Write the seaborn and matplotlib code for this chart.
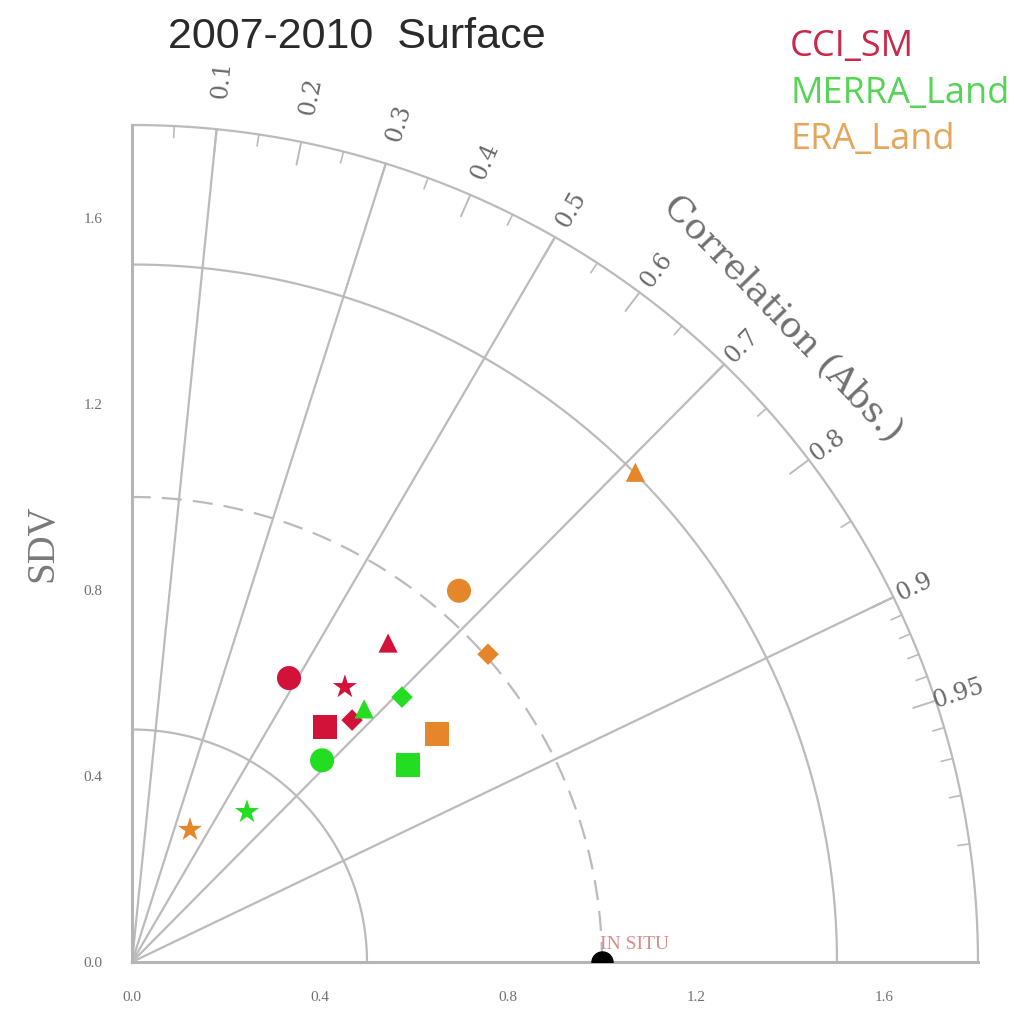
import numpy as np
import pandas as pd
import matplotlib
matplotlib.use("Agg")
import matplotlib.pyplot as plt
import seaborn as sns

# -----------------------
# Data
# -----------------------
products = ['CCI_SM', 'MERRA_Land', 'ERA_Land']
cases = ['circle', 'square', 'triangle', 'diamond', 'star']

sdv_cci = [0.696, 0.651, 0.876, 0.700, 0.745]
corr_cci = [0.480, 0.631, 0.622, 0.669, 0.608]

sdv_merra = [0.593, 0.724, 0.735, 0.809, 0.405]
corr_merra = [0.682, 0.811, 0.672, 0.710, 0.604]

sdv_era = [1.059, 0.813, 1.502, 1.006, 0.310]
corr_era = [0.657, 0.798, 0.713, 0.753, 0.398]

ref_sdv = 1.0
sdv_arcs = [0.5, 1.5]
corr_lines = [0.1, 0.3, 0.5, 0.7, 0.9]
corr_labels = [0.1, 0.2, 0.3, 0.4, 0.5, 0.6, 0.7, 0.8, 0.9, 0.95]
corr_minor = [0.05, 0.15, 0.25, 0.35, 0.45, 0.55, 0.65, 0.75, 0.85,
              0.91, 0.92, 0.93, 0.94, 0.96, 0.97, 0.98, 0.99]
sd_ticks = [0.0, 0.2, 0.4, 0.6, 0.8, 1.0, 1.2, 1.4, 1.6, 1.8]
sd_labels = ['0.0', '', '0.4', '', '0.8', '', '1.2', '', '1.6', '']
sd_max = 1.8

colors = {'CCI_SM': '#d3123a', 'MERRA_Land': '#22dd22', 'ERA_Land': '#e5862a'}
text_colors = {'CCI_SM': '#c8284a', 'MERRA_Land': '#55d455', 'ERA_Land': '#e3a75c'}
markers = {'circle': 'o', 'square': 's', 'triangle': '^', 'diamond': 'D', 'star': '*'}
sizes = {'circle': 300, 'square': 300, 'triangle': 190, 'diamond': 120, 'star': 330}

grid_col = '#bbbbbb'

# -----------------------
# Build table
# -----------------------
rows = []
for prod, sdv, corr in zip(products, [sdv_cci, sdv_merra, sdv_era],
                           [corr_cci, corr_merra, corr_era]):
    for case, s, c in zip(cases, sdv, corr):
        rows.append({'product': prod, 'case': case, 'sdv': s, 'corr': c})
df = pd.DataFrame(rows)
df['x'] = df['sdv'] * df['corr']
df['y'] = df['sdv'] * np.sqrt(1 - df['corr'] ** 2)

# -----------------------
# Figure
# -----------------------
sns.set_style('white')
plt.rcParams['font.family'] = ['DejaVu Sans']

fig = plt.figure(figsize=(10.27, 10.13), dpi=100)
ax = fig.add_axes([132 / 1027, 51 / 1013, 846 / 1027, 837 / 1013])
ax.set_xlim(0, sd_max)
ax.set_ylim(0, sd_max)

theta = np.linspace(0, np.pi / 2, 400)
for r in sdv_arcs + [sd_max]:
    ax.plot(r * np.cos(theta), r * np.sin(theta), color=grid_col, lw=1.6,
            clip_on=False, zorder=1)
ax.plot(ref_sdv * np.cos(theta), ref_sdv * np.sin(theta), color=grid_col,
        lw=1.6, ls=(0, (9, 5)), zorder=1)

for c in corr_lines:
    a = np.arccos(c)
    ax.plot([0, sd_max * np.cos(a)], [0, sd_max * np.sin(a)], color=grid_col,
            lw=1.6, clip_on=False, zorder=1)

# correlation ticks on the outer arc (inward) and their labels
for c in corr_labels:
    a = np.arccos(c)
    ax.plot([sd_max * np.cos(a), (sd_max - 0.05) * np.cos(a)],
            [sd_max * np.sin(a), (sd_max - 0.05) * np.sin(a)],
            color=grid_col, lw=1.4, clip_on=False)
    r_lab = 1.85 + 0.06 * np.sin(a) ** 8
    ax.text(r_lab * np.cos(a), r_lab * np.sin(a), f'{c:g}',
            rotation=np.degrees(a), rotation_mode='anchor', ha='center',
            va='center', fontsize=17, color='#6a6a6a', family='DejaVu Serif')
for c in corr_minor:
    a = np.arccos(c)
    ax.plot([sd_max * np.cos(a), (sd_max - 0.025) * np.cos(a)],
            [sd_max * np.sin(a), (sd_max - 0.025) * np.sin(a)],
            color=grid_col, lw=1.2, clip_on=False)

ax.text(1.385, 1.385, 'Correlation (Abs.)', rotation=-46, ha='center',
        va='center', rotation_mode='anchor', fontsize=26, color='#707070',
        family='DejaVu Serif')

# model points
sns.scatterplot(data=df, x='x', y='y', hue='product', style='case',
                size='case', palette=colors, markers=markers, sizes=sizes,
                linewidth=0, legend=False, ax=ax, zorder=4, clip_on=False)

# reference point
ax.scatter([ref_sdv], [0], s=230, color='black', zorder=5, clip_on=True)
ax.text(ref_sdv - 0.005, 0.037, 'IN SITU', fontsize=14, color='#d98c8c',
        family='Liberation Serif', ha='left', va='center')

# axes styling
sns.despine(ax=ax)
for side in ['left', 'bottom']:
    ax.spines[side].set_color('#b5b5b5')
    ax.spines[side].set_linewidth(2.2)
ax.set_xticks(sd_ticks)
ax.set_xticklabels(sd_labels)
ax.set_yticks(sd_ticks)
ax.set_yticklabels(sd_labels)
ax.tick_params(axis='both', direction='out', length=7, width=1.2,
               color='#b5b5b5', labelsize=11, labelcolor='#707070', pad=14)
for lab in ax.get_xticklabels() + ax.get_yticklabels():
    lab.set_family('Liberation Serif')
ax.set_xlabel('')
ax.set_ylabel('SDV', fontsize=28, color='#7a7a7a', family='Liberation Serif',
              labelpad=16)

fig.text(357 / 1027, 1 - 37 / 1013, '2007-2010  Surface', ha='center',
         va='center', fontsize=31, color='#2a2a2a', family='Liberation Sans')

for i, prod in enumerate(products):
    fig.text(790 / 1027, 1 - (47 + 46.5 * i) / 1013, prod, ha='left',
             va='center', fontsize=26, color=text_colors[prod],
             family='Open Sans')

fig.savefig('out.png', dpi=100)
